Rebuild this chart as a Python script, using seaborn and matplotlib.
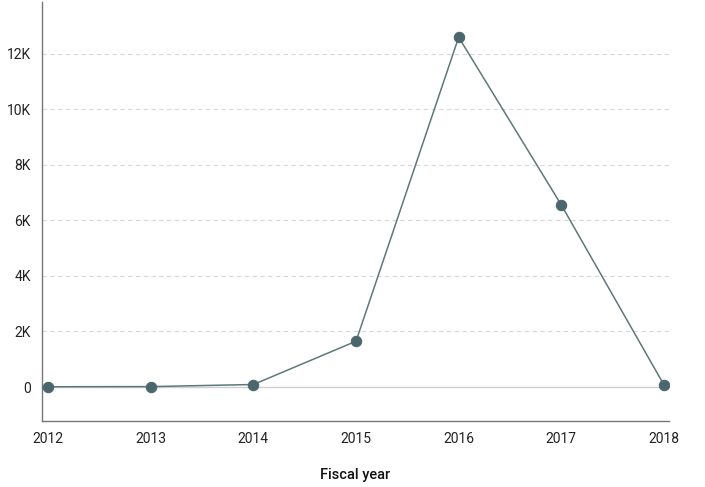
import numpy as np
import pandas as pd
import seaborn as sns
import matplotlib.pyplot as plt
from matplotlib.ticker import FuncFormatter

# values
years = [2012, 2013, 2014, 2015, 2016, 2017, 2018]
counts = [10, 15, 90, 1650, 12600, 6560, 80]

df = pd.DataFrame({"year": years, "count": counts})

sns.set_style("white")
plt.rcParams['font.family'] = ['Roboto', 'DejaVu Sans']

fig = plt.figure(figsize=(7.05, 4.87), dpi=100)
ax = fig.add_axes([0.0596, 0.1355, 0.8894, 0.8604])

# dashed grid lines, solid zero line
for y in [2000, 4000, 6000, 8000, 10000, 12000]:
    ax.axhline(y, color='#d8d8d8', lw=0.8, ls=(0, (4, 3)), zorder=0)
ax.axhline(0, color='#cfcfcf', lw=1.0, zorder=0)

sns.lineplot(data=df, x="year", y="count", ax=ax, color='#5f7778', lw=1.1,
             marker='o', markersize=7.5, markerfacecolor='#4b666d',
             markeredgecolor='#4b666d', zorder=3)

ax.set_xlim(2011.94, 2018.05)
ax.set_ylim(-1225, 13870)
ax.set_xticks(years)
ax.set_yticks([0, 2000, 4000, 6000, 8000, 10000, 12000])
ax.yaxis.set_major_formatter(FuncFormatter(lambda v, p: '0' if v == 0 else f'{int(v/1000)}K'))

for s in ['top', 'right']:
    ax.spines[s].set_visible(False)
for s in ['left', 'bottom']:
    ax.spines[s].set_color('#777777')
    ax.spines[s].set_linewidth(1.0)

ax.tick_params(axis='both', direction='out', length=5, width=0.8, color='#888888',
               labelsize=10, labelcolor='#222222', pad=3)

ax.set_ylabel('')
ax.set_xlabel('Fiscal year', fontsize=10.5, color='#111111', fontweight='medium', labelpad=16)

fig.savefig('out.png', dpi=100)
